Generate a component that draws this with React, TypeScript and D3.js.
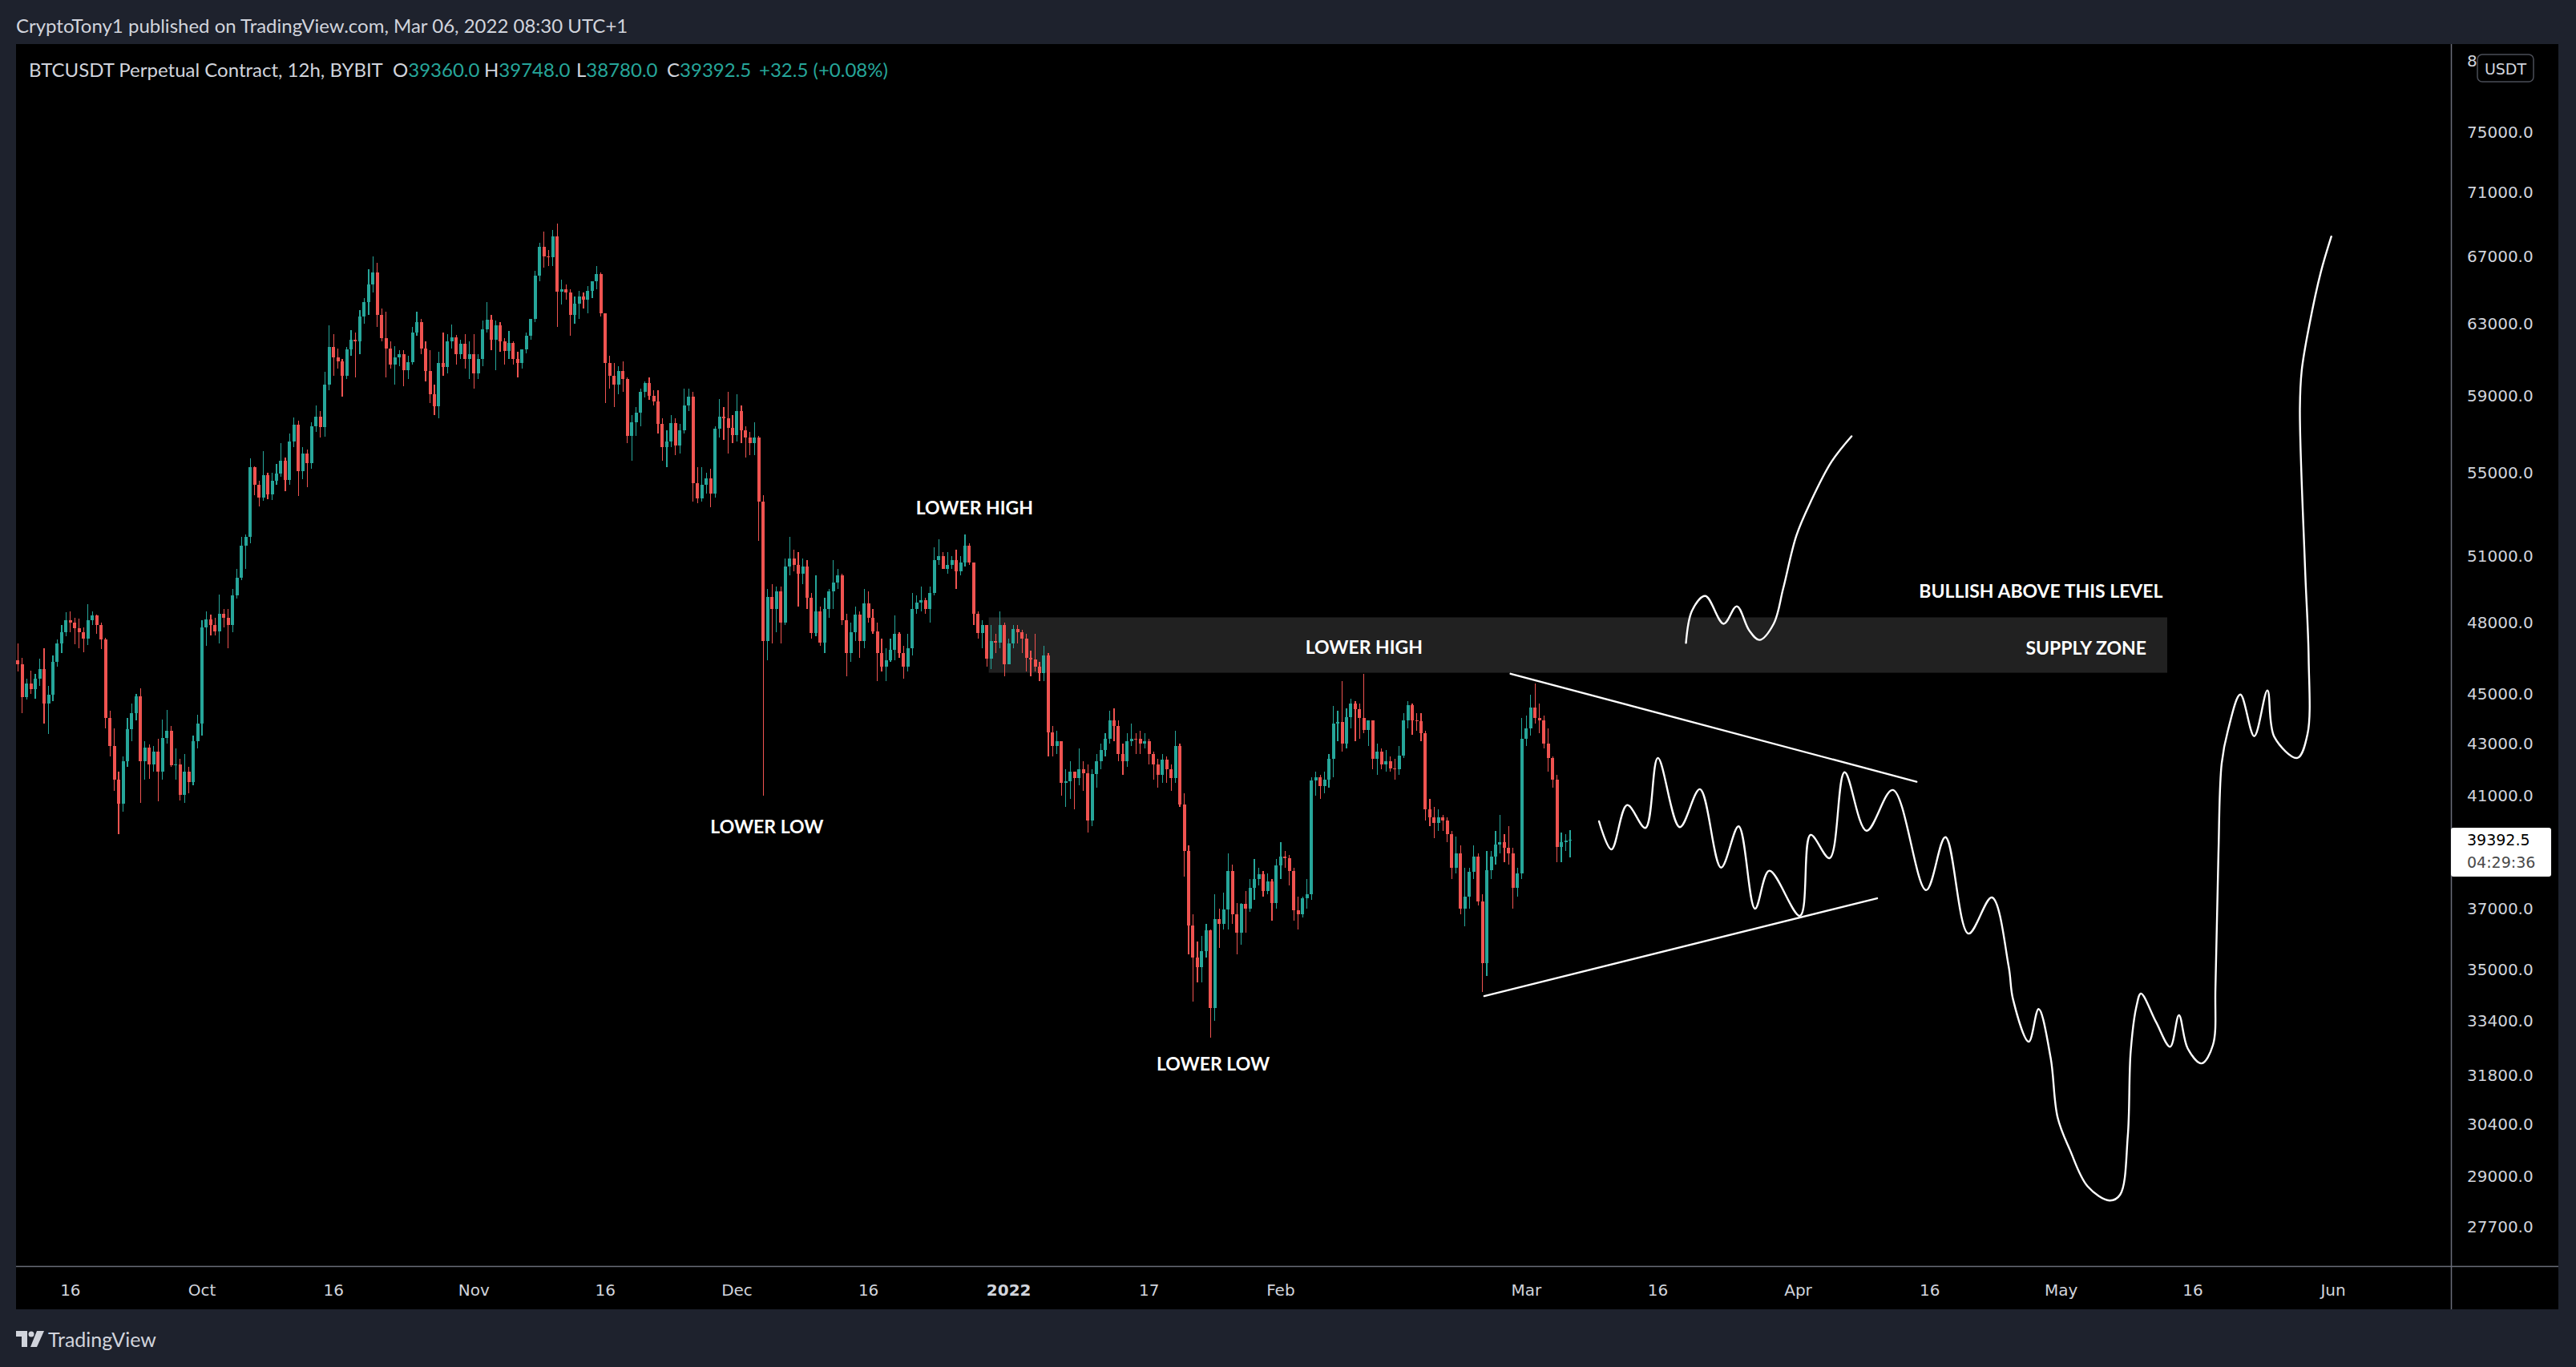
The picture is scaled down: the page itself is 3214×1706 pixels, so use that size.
import React from "react";
import * as d3 from "d3";

// ---------- DATA ----------
// 12h candles of BTCUSDT perpetual (BYBIT), values in thousands of USDT: [close, high, low]
// first candle opens 2021-09-10 00:00 UTC; each open = previous close
const firstOpen = 46.4;

const sep21: [number, number, number][] = [
  [46.2, 47.1, 45.9], [44.85, 46.5, 44.2], // 10
  [45.4, 45.6, 44.75], [45.17, 45.95, 45.0],
  [45.6, 45.8, 44.8], [46.03, 46.45, 45.3],
  [44.6, 46.88, 43.8], [44.96, 45.3, 43.37],
  [46.3, 46.6, 44.69], [47.11, 47.27, 46.1],
  [47.6, 47.9, 46.69], [48.12, 48.47, 47.4], // 15
  [48.0, 48.5, 47.6], [47.74, 48.2, 47.05],
  [47.6, 48.16, 46.9], [47.3, 47.8, 46.74],
  [48.1, 48.8, 47.04], [48.31, 48.5, 47.9],
  [47.9, 48.37, 47.5], [47.26, 48.0, 46.85],
  [44.0, 47.35, 43.6], [42.91, 44.3, 42.5], // 20
  [41.6, 43.6, 41.2], [40.7, 41.9, 39.6],
  [42.3, 42.5, 40.4], [43.56, 44.0, 42.1],
  [44.2, 44.6, 43.1], [44.89, 44.97, 43.9],
  [42.3, 45.2, 40.75], [42.84, 43.1, 41.6],
  [42.2, 42.97, 41.65], [42.7, 42.9, 41.9], // 25
  [41.9, 43.2, 40.8], [43.21, 43.95, 41.6],
  [43.5, 44.35, 43.0], [42.17, 43.7, 42.1],
  [42.2, 42.8, 41.6], [41.03, 42.4, 40.83],
  [41.9, 42.6, 40.75], [41.52, 42.1, 41.1],
  [43.1, 43.3, 41.41], [43.79, 44.13, 42.8], // 30
];

const oct21: [number, number, number][] = [
  [47.8, 48.1, 43.3], [48.14, 48.5, 47.0], // 1
  [47.9, 48.35, 47.43], [47.63, 48.2, 47.45],
  [48.4, 49.23, 47.1], [48.2, 48.6, 47.8],
  [47.9, 48.6, 46.9], [49.22, 49.5, 47.6],
  [50.0, 50.4, 49.05], [51.47, 51.9, 49.9], // 5
  [51.9, 52.0, 50.4], [55.31, 55.75, 51.6],
  [54.4, 55.33, 53.9], [53.78, 54.6, 53.35],
  [54.9, 56.1, 53.62], [53.95, 55.0, 53.7],
  [54.6, 55.0, 53.65], [54.96, 55.45, 54.4],
  [55.6, 56.5, 54.8], [54.66, 55.8, 54.1], // 10
  [56.6, 57.0, 54.4], [57.47, 57.84, 56.3],
  [55.1, 57.68, 53.85], [56.0, 56.3, 54.7],
  [55.5, 56.2, 54.3], [57.37, 57.6, 55.2],
  [57.9, 58.5, 57.1], [57.36, 58.2, 56.8],
  [59.6, 60.3, 56.85], [61.67, 62.9, 59.3], // 15
  [61.1, 62.4, 60.1], [60.87, 61.6, 60.5],
  [60.1, 61.0, 58.95], [61.53, 61.7, 59.9],
  [62.1, 62.65, 61.2], [62.0, 62.5, 60.0],
  [63.4, 63.8, 61.3], [64.28, 64.49, 63.0],
  [65.3, 66.2, 63.5], [66.0, 67.0, 64.8], // 20
  [63.5, 66.6, 62.8], [62.2, 63.9, 62.0],
  [61.6, 63.7, 60.0], [60.7, 62.0, 60.5],
  [61.1, 61.75, 59.6], [61.3, 61.5, 60.6],
  [60.4, 61.5, 59.5], [60.86, 61.2, 59.9],
  [62.5, 62.8, 60.7], [63.08, 63.7, 62.3], // 25
  [61.6, 63.3, 61.3], [60.33, 62.0, 59.8],
  [59.1, 61.5, 58.6], [58.45, 59.6, 58.0],
  [60.8, 61.4, 57.8], [60.59, 62.5, 60.1],
  [62.0, 62.4, 60.2], [62.25, 62.95, 61.6],
  [61.3, 62.35, 60.7], [61.88, 62.1, 61.0], // 30
  [61.0, 62.4, 60.5], [61.3, 62.0, 59.9],
];

const nov21: [number, number, number][] = [
  [60.2, 62.4, 59.4], [61.0, 61.3, 59.9], // 1
  [62.7, 63.2, 60.6], [63.23, 64.27, 62.5],
  [62.1, 63.5, 61.5], [62.93, 63.2, 60.4],
  [62.0, 63.1, 61.4], [61.44, 62.2, 60.7],
  [61.9, 62.6, 61.0], [61.0, 62.0, 60.7], // 5
  [60.8, 61.4, 60.0], [61.53, 61.55, 60.5],
  [62.3, 62.5, 61.35], [63.3, 63.3, 62.1],
  [65.8, 66.1, 63.1], [67.55, 67.8, 65.5],
  [67.0, 68.5, 66.3], [66.95, 67.4, 66.4],
  [68.2, 68.6, 66.4], [64.88, 69.0, 62.8], // 10
  [65.0, 65.6, 64.1], [64.81, 65.3, 64.4],
  [63.5, 65.0, 62.3], [64.15, 64.6, 63.0],
  [64.6, 64.9, 63.3], [64.4, 64.8, 63.9],
  [64.9, 65.2, 63.6], [65.5, 65.5, 64.5],
  [65.9, 66.4, 65.0], [63.6, 66.0, 63.4], // 15
  [60.8, 63.6, 58.6], [60.1, 61.2, 59.4],
  [59.6, 60.8, 58.4], [60.36, 60.6, 59.1],
  [59.9, 60.9, 59.2], [56.9, 60.0, 56.5],
  [57.6, 58.0, 55.6], [58.1, 58.4, 56.9],
  [59.2, 59.4, 57.4], [59.7, 59.8, 58.9], // 20
  [59.0, 60.0, 58.8], [58.7, 59.3, 58.5],
  [57.5, 59.3, 57.0], [56.3, 57.8, 55.6],
  [56.6, 57.2, 55.3], [57.57, 58.0, 56.3],
  [56.4, 57.8, 55.9], [57.17, 57.5, 56.0],
  [58.5, 59.4, 57.0], [58.96, 59.4, 58.2], // 25
  [54.5, 59.2, 53.6], [53.73, 55.3, 53.5],
  [54.4, 55.3, 53.6], [54.74, 55.0, 54.0],
  [54.0, 55.2, 53.3], [57.27, 57.4, 53.8],
  [57.9, 58.85, 56.8], [57.8, 58.4, 56.7],
  [57.3, 59.2, 56.0], [56.95, 58.0, 56.5], // 30
];

const dec21: [number, number, number][] = [
  [58.2, 59.1, 56.6], [57.2, 58.5, 56.5], // 1
  [56.8, 57.4, 55.8], [56.5, 57.1, 55.9],
  [56.8, 57.6, 55.9], [53.6, 56.9, 51.7],
  [47.2, 53.9, 41.0], [49.15, 49.5, 46.4],
  [48.6, 49.7, 47.1], [49.4, 49.6, 47.6], // 5
  [48.0, 49.6, 47.1], [50.5, 50.9, 47.9],
  [50.9, 51.9, 50.1], [50.6, 51.3, 50.3],
  [50.2, 51.2, 48.7], [50.5, 50.9, 49.7],
  [49.1, 50.8, 48.6], [47.55, 49.3, 47.3],
  [48.5, 50.1, 47.4], [47.14, 48.7, 47.0], // 10
  [48.6, 49.1, 46.7], [49.39, 49.5, 48.2],
  [49.8, 50.8, 48.6], [50.1, 50.4, 49.5],
  [48.1, 50.2, 47.9], [46.7, 48.4, 45.7],
  [47.6, 48.0, 46.3], [48.35, 48.7, 47.2],
  [47.2, 48.5, 46.5], [48.86, 49.5, 46.9], // 15
  [48.2, 49.4, 48.0], [47.63, 48.6, 47.5],
  [46.7, 48.0, 45.5], [46.13, 47.3, 45.9],
  [46.4, 46.9, 45.5], [46.83, 47.3, 46.3],
  [47.5, 48.3, 46.4], [46.68, 47.6, 46.5],
  [46.1, 47.0, 45.6], [46.9, 47.5, 45.9], // 20
  [48.6, 49.3, 46.6], [48.9, 49.2, 48.4],
  [49.0, 49.6, 48.5], [48.6, 49.1, 48.4],
  [49.3, 49.6, 48.0], [50.8, 51.4, 49.2],
  [51.0, 51.8, 50.6], [50.4, 51.2, 50.4],
  [50.6, 51.2, 50.2], [50.8, 51.0, 50.4], // 25
  [50.3, 51.3, 49.5], [50.7, 51.0, 50.1],
  [51.5, 52.0, 50.5], [50.7, 51.6, 50.6],
  [48.4, 50.7, 47.9], [47.54, 48.5, 47.3],
  [47.9, 48.1, 46.9], [46.46, 47.9, 46.1],
  [47.2, 47.9, 46.0], [47.12, 47.5, 46.7], // 30
  [47.9, 48.5, 46.9], [46.2, 48.0, 45.7],
];

const jan22: [number, number, number][] = [
  [47.1, 47.3, 46.2], [47.72, 47.9, 46.9], // 1
  [47.6, 47.9, 47.1], [47.3, 47.7, 46.7],
  [46.5, 47.5, 45.9], [46.43, 46.8, 45.7],
  [46.1, 47.5, 45.9], [45.83, 46.3, 45.5],
  [46.6, 47.0, 45.5], [43.43, 46.7, 42.5], // 5
  [42.9, 43.7, 42.5], [43.08, 43.5, 42.6],
  [41.5, 43.1, 41.0], [41.55, 42.0, 40.6],
  [41.9, 42.3, 40.9], [41.68, 41.9, 40.5],
  [42.0, 42.8, 41.4], [41.86, 42.3, 41.2],
  [40.1, 42.2, 39.65], [41.83, 42.0, 39.9], // 10
  [42.3, 42.6, 41.3], [42.74, 43.0, 42.0],
  [43.2, 43.4, 42.5], [43.92, 44.3, 43.0],
  [43.7, 44.4, 43.1], [42.59, 43.9, 42.3],
  [42.3, 43.0, 41.8], [43.1, 43.4, 42.1],
  [43.2, 43.8, 42.9], [43.18, 43.4, 42.6], // 15
  [43.0, 43.5, 42.6], [43.1, 43.4, 42.8],
  [42.6, 43.2, 42.2], [42.2, 42.7, 41.6],
  [41.8, 42.4, 41.3], [42.37, 42.6, 41.5],
  [42.0, 42.5, 41.5], [41.66, 42.2, 41.2],
  [42.9, 43.5, 41.5], [40.68, 43.0, 40.6], // 20
  [39.0, 41.1, 38.1], [36.45, 39.2, 35.5],
  [35.4, 36.8, 34.0], [35.07, 35.9, 34.6],
  [35.6, 36.1, 34.6], [36.28, 36.5, 35.4],
  [33.8, 36.3, 32.9], [36.65, 37.5, 33.4],
  [36.5, 37.0, 35.7], [36.96, 37.55, 36.3], // 25
  [38.3, 38.9, 36.3], [36.82, 38.5, 36.5],
  [36.2, 37.2, 35.5], [37.16, 37.2, 35.8],
  [37.0, 37.6, 36.2], [37.71, 38.0, 36.9],
  [38.0, 38.7, 37.3], [38.17, 38.4, 37.8],
  [37.6, 38.3, 37.4], [37.92, 38.2, 37.5], // 30
  [37.2, 38.0, 36.6], [38.48, 38.7, 37.0],
];

const feb22: [number, number, number][] = [
  [38.8, 39.3, 38.0], [38.74, 39.0, 38.4], // 1
  [38.3, 38.85, 37.8], [36.95, 38.4, 36.6],
  [36.8, 37.4, 36.3], [37.34, 37.4, 36.7],
  [37.5, 38.0, 37.0], [41.57, 41.7, 37.3],
  [41.7, 41.9, 41.0], [41.38, 41.8, 40.9], // 5
  [41.6, 41.9, 41.1], [42.41, 42.6, 41.3],
  [43.8, 44.5, 41.7], [43.84, 44.3, 43.1],
  [43.0, 45.5, 42.7], [44.04, 44.4, 42.8],
  [44.6, 44.8, 43.6], [44.38, 44.7, 43.1],
  [44.0, 44.6, 43.2], [43.52, 45.8, 43.4], // 10
  [43.9, 43.9, 42.9], [42.4, 43.9, 42.0],
  [42.7, 43.0, 41.8], [42.2, 42.8, 42.0],
  [42.3, 42.75, 41.9], [42.05, 42.5, 41.9],
  [42.0, 42.4, 41.6], [42.54, 42.9, 41.8],
  [43.9, 44.2, 42.45], [44.54, 44.7, 43.6], // 15
  [43.9, 44.6, 43.35], [43.87, 44.2, 43.5],
  [43.4, 44.2, 43.1], [40.5, 43.5, 40.1],
  [40.2, 40.9, 39.9], [40.0, 40.6, 39.45],
  [40.2, 40.5, 39.7], [40.1, 40.3, 39.7],
  [39.6, 40.2, 39.3], [38.4, 39.7, 38.0], // 20
  [38.9, 39.5, 38.2], [37.0, 39.2, 36.8],
  [37.4, 38.4, 36.4], [38.25, 38.4, 37.0],
  [38.8, 39.2, 38.0], [37.25, 38.9, 37.1],
  [35.2, 37.5, 34.3], [38.33, 39.0, 34.8],
  [38.8, 39.0, 38.0], [39.23, 39.7, 38.5], // 25
  [39.3, 40.3, 38.9], [39.1, 39.6, 38.6],
  [38.9, 39.9, 38.5], [37.7, 39.1, 37.0],
  [38.2, 38.4, 37.4], [43.19, 44.0, 38.0],
];

const mar22: [number, number, number][] = [
  [43.6, 44.1, 42.9], [44.42, 44.95, 43.3], // 1
  [44.0, 45.4, 43.8], [43.9, 44.6, 43.4],
  [43.0, 44.1, 42.8], [42.45, 43.6, 41.9],
  [41.6, 42.5, 41.3], [39.15, 41.8, 38.6],
  [39.3, 39.65, 38.6], [39.36, 39.6, 39.0], // 5
  [39.3925, 39.748, 38.78], // 6 (live)
];

const countdown = "04:29:36";

// price-axis labels (39000.0 is hidden behind the last-price tag in the reference)
const priceTicks = [80000, 75000, 71000, 67000, 63000, 59000, 55000, 51000, 48000, 45000, 43000, 41000, 37000, 35000, 33400, 31800, 30400, 29000, 27700];

// time-axis labels
const timeTicks: [string, string][] = [
  ["2021-09-16", "16"], ["2021-10-01", "Oct"], ["2021-10-16", "16"], ["2021-11-01", "Nov"],
  ["2021-11-16", "16"], ["2021-12-01", "Dec"], ["2021-12-16", "16"], ["2022-01-01", "2022"],
  ["2022-01-17", "17"], ["2022-02-01", "Feb"], ["2022-03-01", "Mar"], ["2022-03-16", "16"],
  ["2022-04-01", "Apr"], ["2022-04-16", "16"], ["2022-05-01", "May"], ["2022-05-16", "16"],
  ["2022-06-01", "Jun"],
];

// supply zone rectangle
const zoneTimes = ["2021-12-29 17", "2022-05-13 02"];
const zonePrices = [45860, 48230];

// trend lines of the triangle
const upperTrend: [string, number][] = [["2022-02-27 05", 45820], ["2022-04-14 12", 41530]];
const lowerTrend: [string, number][] = [["2022-02-24 05", 34170], ["2022-04-10 00", 37350]];

// hand-drawn projected path (bearish scenario)
const projection: [string, number][] = [
  ["2022-03-09 07", 40060], ["2022-03-10 17", 39050], ["2022-03-12 12", 40660], ["2022-03-14 14", 39820],
  ["2022-03-16 00", 42440], ["2022-03-18 12", 39850], ["2022-03-20 19", 41250], ["2022-03-23 05", 38410],
  ["2022-03-25 05", 39880], ["2022-03-27 02", 37000], ["2022-03-28 17", 38300], ["2022-04-01 05", 36760],
  ["2022-04-02 10", 39570], ["2022-04-04 14", 38740], ["2022-04-06 07", 41890], ["2022-04-08 19", 39720],
  ["2022-04-11 19", 41220], ["2022-04-15 14", 37630], ["2022-04-17 19", 39490], ["2022-04-20 10", 36170],
  ["2022-04-23 02", 37380], ["2022-04-25 00", 35110], ["2022-04-25 12", 34070], ["2022-04-27 07", 32780],
  ["2022-04-28 10", 33770], ["2022-04-29 19", 32300], ["2022-04-30 14", 30600], ["2022-05-02 00", 29700],
  ["2022-05-04 00", 28740], ["2022-05-06 12", 28370], ["2022-05-07 17", 28520], ["2022-05-08 14", 30080],
  ["2022-05-08 22", 32490], ["2022-05-09 14", 33870], ["2022-05-10 02", 34250], ["2022-05-11 19", 33380],
  ["2022-05-13 10", 32630], ["2022-05-14 10", 33580], ["2022-05-15 10", 32580], ["2022-05-17 00", 32140],
  ["2022-05-18 07", 32680], ["2022-05-18 14", 34470], ["2022-05-18 22", 38850], ["2022-05-19 07", 42230],
  ["2022-05-20 00", 43510], ["2022-05-21 10", 44960], ["2022-05-23 00", 43290], ["2022-05-24 12", 45130],
  ["2022-05-25 07", 43260], ["2022-05-27 22", 42440], ["2022-05-29 02", 43380], ["2022-05-29 05", 46460],
  ["2022-05-28 19", 50500], ["2022-05-28 05", 58260], ["2022-05-28 10", 60380], ["2022-05-29 07", 62950],
  ["2022-05-30 14", 66010], ["2022-05-31 19", 68210],
];

// hand-drawn bullish path
const bullish: [string, number][] = [
  ["2022-03-19 05", 47120], ["2022-03-19 22", 48540], ["2022-03-21 10", 49180], ["2022-03-23 12", 47950],
  ["2022-03-25 00", 48720], ["2022-03-26 10", 47660], ["2022-03-27 14", 47250], ["2022-03-29 05", 47950],
  ["2022-03-30 07", 49510], ["2022-03-31 19", 51950], ["2022-04-02 10", 53570], ["2022-04-04 19", 55560],
  ["2022-04-07 02", 56870],
];

// text notes: [text, time, price]
const centerNotes: [string, string, number][] = [
  ["LOWER HIGH", "2021-12-28 02", 53300],
  ["LOWER LOW", "2021-12-04 10", 39890],
  ["LOWER LOW", "2022-01-24 07", 32140],
  ["LOWER HIGH", "2022-02-10 12", 46970],
];
const rightNotes: [string, string, number][] = [
  ["BULLISH ABOVE THIS LEVEL", "2022-05-12 14", 49440],
  ["SUPPLY ZONE", "2022-05-10 17", 46940],
];

// ---------- CHART ----------
const W = 3214;
const H = 1706;
const FRAME = "#1e222d";
const UP = "#26a69a";
const DOWN = "#ef5350";
const TXT = "#d1d4dc";

const parseH = d3.utcParse("%Y-%m-%d %H");
const parseD = d3.utcParse("%Y-%m-%d");

export default function App() {
  const plot = { left: 20, top: 55, right: 3058, bottom: 1580 };
  const x = d3.scaleUtc().domain([parseD("2021-10-01")!, parseD("2022-06-01")!]).range([252, 2911]);
  const y = d3.scaleLog().domain([27700, 75000]).range([1531, 165]);

  const start = Date.UTC(2021, 8, 10, 0);
  const bars = [...sep21, ...oct21, ...nov21, ...dec21, ...jan22, ...feb22, ...mar22];
  let prev = firstOpen;
  const candles = bars.map(([c, h, l], i) => {
    const o = prev;
    prev = c;
    return {
      t: new Date(start + i * 12 * 3600 * 1000),
      o: o * 1000,
      c: c * 1000,
      h: Math.max(h, o, c) * 1000,
      l: Math.min(l, o, c) * 1000,
    };
  });
  const last = candles[candles.length - 1];
  const chg = last.c - last.o;
  const fmt = d3.format(".1f");

  const curve = d3
    .line<[string, number]>()
    .x((d) => x(parseH(d[0])!))
    .y((d) => y(d[1]))
    .curve(d3.curveCatmullRom.alpha(0.5));
  const straight = d3
    .line<[string, number]>()
    .x((d) => x(parseH(d[0])!))
    .y((d) => y(d[1]));

  const bodyW = 4;
  const lastY = y(last.c);

  return (
    <svg
      width={W}
      height={H}
      viewBox={`0 0 ${W} ${H}`}
      style={{ position: "absolute", left: 0, top: 0, display: "block" }}
    >
      <defs>
        <clipPath id="plotClip">
          <rect x={plot.left} y={plot.top} width={plot.right - plot.left} height={plot.bottom - plot.top} />
        </clipPath>
        <clipPath id="topLabelClip">
          <rect x={3060} y={55} width={30} height={40} />
        </clipPath>
      </defs>
      <rect x={0} y={0} width={W} height={H} fill={FRAME} />
      <rect x={20} y={55} width={3172} height={1579} fill="#000" />

      {/* header */}
      <text x={20} y={31} fontFamily="Lato" fontSize={24} fill={TXT} dominantBaseline="central">
        CryptoTony1 published on TradingView.com, Mar 06, 2022 08:30 UTC+1
      </text>

      <g clipPath="url(#plotClip)">
        {/* supply zone */}
        <rect
          x={x(parseH(zoneTimes[0])!)}
          y={y(zonePrices[1])}
          width={x(parseH(zoneTimes[1])!) - x(parseH(zoneTimes[0])!)}
          height={y(zonePrices[0]) - y(zonePrices[1])}
          fill="#212121"
        />
        {/* candles */}
        <g shapeRendering="crispEdges">
          {candles.map((d, i) => {
            const cx = x(d.t);
            const col = d.c >= d.o ? UP : DOWN;
            const top = y(Math.max(d.o, d.c));
            const bot = y(Math.min(d.o, d.c));
            return (
              <g key={i}>
                <rect x={cx - 0.6} y={y(d.h)} width={1.2} height={Math.max(1, y(d.l) - y(d.h))} fill={col} />
                <rect x={cx - bodyW / 2} y={top} width={bodyW} height={Math.max(1, bot - top)} fill={col} />
              </g>
            );
          })}
        </g>
        {/* drawings */}
        <g fill="none" stroke="#ffffff" strokeWidth={2.4} strokeLinecap="round" strokeLinejoin="round">
          <path d={straight(upperTrend) || ""} />
          <path d={straight(lowerTrend) || ""} />
          <path d={curve(projection) || ""} />
          <path d={curve(bullish) || ""} />
        </g>
        {/* notes */}
        <g fontFamily="Lato" fontWeight={700} fontSize={23} fill="#ffffff" dominantBaseline="central">
          {centerNotes.map(([t, d, p], i) => (
            <text key={"c" + i} x={x(parseH(d)!)} y={y(p)} textAnchor="middle">
              {t}
            </text>
          ))}
          {rightNotes.map(([t, d, p], i) => (
            <text key={"r" + i} x={x(parseH(d)!)} y={y(p)} textAnchor="end">
              {t}
            </text>
          ))}
        </g>
      </g>

      {/* legend */}
      <text y={86} fontFamily="Lato" fontSize={24} dominantBaseline="central">
        <tspan x={36} fill={TXT}>BTCUSDT Perpetual Contract, 12h, BYBIT</tspan>
        <tspan x={490} fill={TXT}>O</tspan>
        <tspan fill={UP}>{fmt(last.o)}</tspan>
        <tspan x={604} fill={TXT}>H</tspan>
        <tspan fill={UP}>{fmt(last.h)}</tspan>
        <tspan x={719} fill={TXT}>L</tspan>
        <tspan fill={UP}>{fmt(last.l)}</tspan>
        <tspan x={832} fill={TXT}>C</tspan>
        <tspan fill={UP}>{fmt(last.c)}</tspan>
        <tspan x={947} fill={UP}>
          {`${chg >= 0 ? "+" : ""}${fmt(chg)} (${chg >= 0 ? "+" : ""}${d3.format(".2f")((chg / last.o) * 100)}%)`}
        </tspan>
      </text>

      {/* axes lines */}
      <line x1={3058.5} x2={3058.5} y1={55} y2={1634} stroke="#6a6d78" strokeWidth={1.5} />
      <line x1={20} x2={3192} y1={1580.5} y2={1580.5} stroke="#6a6d78" strokeWidth={1.5} />

      {/* price axis */}
      <g fontFamily="DejaVu Sans" fontSize={20} fill={TXT} dominantBaseline="central">
        {priceTicks.map((p, i) => (
          <text key={p} x={3078} y={y(p)} clipPath={i === 0 ? "url(#topLabelClip)" : undefined}>
            {fmt(p)}
          </text>
        ))}
      </g>
      <rect x={3091} y={68} width={70} height={34} rx={6} fill="#000" stroke="#4a4d57" strokeWidth={1.5} />
      <text x={3126} y={86} fontFamily="DejaVu Sans" fontSize={19} fill={TXT} textAnchor="middle" dominantBaseline="central">
        USDT
      </text>

      {/* last price label */}
      <rect x={3058} y={lastY - 15} width={125} height={61} rx={3} fill="#ffffff" />
      <text x={3078} y={lastY} fontFamily="DejaVu Sans" fontSize={19} fill="#000" dominantBaseline="central">
        {fmt(last.c)}
      </text>
      <text x={3078} y={lastY + 28} fontFamily="DejaVu Sans" fontSize={19} fill="#4a4a4a" dominantBaseline="central">
        {countdown}
      </text>

      {/* time axis */}
      <g fontFamily="DejaVu Sans" fontSize={20} fill={TXT} textAnchor="middle" dominantBaseline="central">
        {timeTicks.map(([d, lab]) => (
          <text key={d} x={x(parseD(d)!)} y={1610} fontWeight={lab === "2022" ? 700 : 400}>
            {lab}
          </text>
        ))}
      </g>

      {/* footer logo */}
      <g fill={TXT}>
        <path d="M20 1661 h14 v20 h-7 v-13 h-7 z" />
        <circle cx={39} cy={1665} r={3.5} />
        <path d="M46 1661 h9 l-9 20 h-8 z" />
        <text x={60} y={1671} fontFamily="Lato" fontSize={25} dominantBaseline="central">
          TradingView
        </text>
      </g>
    </svg>
  );
}
